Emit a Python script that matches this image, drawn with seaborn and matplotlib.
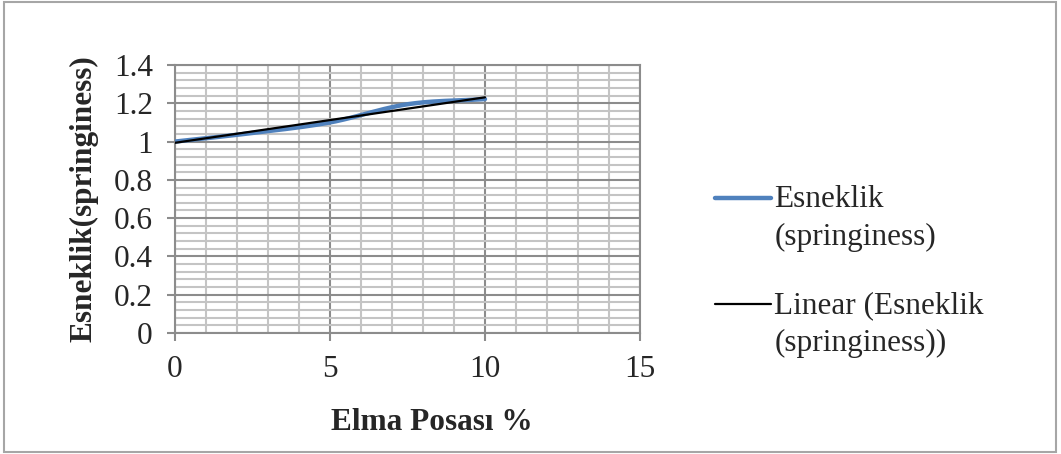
import numpy as np
import pandas as pd
import matplotlib
matplotlib.use("Agg")
import matplotlib.pyplot as plt
import seaborn as sns
from matplotlib.ticker import MultipleLocator
from matplotlib.patches import Rectangle

# DATA
posa = [0, 2.5, 5, 7.5, 10]
esneklik = [1.00, 1.045, 1.10, 1.195, 1.222]

x_ticks = [0, 5, 10, 15]
y_ticks = [0, 0.2, 0.4, 0.6, 0.8, 1.0, 1.2, 1.4]
y_tick_labels = ['0', '0.2', '0.4', '0.6', '0.8', '1', '1.2', '1.4']

series_label = 'Esneklik\n(springiness)'
trend_label = 'Linear (Esneklik\n(springiness))'

FS = 22.5


def smooth_curve(xs, ys, n=40):
    '''
    catmull-rom spline through the points, like the smoothed line in excel
    '''
    xs = np.asarray(xs, float)
    ys = np.asarray(ys, float)
    px = np.concatenate([[2 * xs[0] - xs[1]], xs, [2 * xs[-1] - xs[-2]]])
    py = np.concatenate([[2 * ys[0] - ys[1]], ys, [2 * ys[-1] - ys[-2]]])
    out_x, out_y = [], []
    for i in range(1, len(px) - 2):
        t = np.linspace(0, 1, n, endpoint=(i == len(px) - 3))
        for p, out in ((px, out_x), (py, out_y)):
            p0, p1, p2, p3 = p[i - 1], p[i], p[i + 1], p[i + 2]
            out.extend(0.5 * (2 * p1 + (-p0 + p2) * t
                              + (2 * p0 - 5 * p1 + 4 * p2 - p3) * t ** 2
                              + (-p0 + 3 * p1 - 3 * p2 + p3) * t ** 3))
    return pd.DataFrame({'x': out_x, 'y': out_y})


sns.set_theme(style='white')
plt.rcParams['font.family'] = ['Liberation Serif', 'DejaVu Serif']

fig = plt.figure(figsize=(10.61, 4.54), dpi=100)
ax = fig.add_axes([175 / 1061, 1 - 333 / 454, 465 / 1061, 268 / 454])

# SMOOTHED SERIES
curve = smooth_curve(posa, esneklik)
sns.lineplot(data=curve, x='x', y='y', sort=False, estimator=None, ax=ax,
             color='#4F81BD', linewidth=3.2, label=series_label, zorder=3)

# LINEAR TREND LINE
slope, intercept = np.polyfit(posa, esneklik, 1)
trend = pd.DataFrame({'x': [posa[0], posa[-1]]})
trend['y'] = slope * trend['x'] + intercept
sns.lineplot(data=trend, x='x', y='y', ax=ax, color='black', linewidth=1.6,
             label=trend_label, zorder=4)

ax.set_xlim(0, 15)
ax.set_ylim(0, 1.4)
ax.set_xticks(x_ticks)
ax.set_xticklabels([str(v) for v in x_ticks])
ax.set_yticks(y_ticks)
ax.set_yticklabels(y_tick_labels)
ax.xaxis.set_minor_locator(MultipleLocator(1))
ax.yaxis.set_minor_locator(MultipleLocator(0.04))

ax.grid(which='minor', color='#c4c4c4', linewidth=1.5, zorder=0)
ax.grid(which='major', color='#8c8c8c', linewidth=1.5, zorder=1)
ax.set_axisbelow(True)
for sp in ax.spines.values():
    sp.set_color('#8c8c8c')
    sp.set_linewidth(1.5)

ax.tick_params(which='major', direction='out', length=6, width=1.5, color='#8c8c8c',
               labelsize=FS, pad=10, left=True, bottom=True)
ax.tick_params(which='minor', length=0)

ax.set_xlabel('Elma Posası %', fontsize=FS, fontweight='bold', va='center')
ax.set_ylabel('Esneklik(springiness)', fontsize=FS, fontweight='bold', va='center')
ax.xaxis.set_label_coords((432 - 175) / 465, (333 - 423) / 268)
ax.yaxis.set_label_coords((84 - 175) / 465, 0.5)

handles, labels = ax.get_legend_handles_labels()
ax.get_legend().remove()
leg = fig.legend(handles, labels, loc='upper left', bbox_to_anchor=(715 / 1061, 1 - 185 / 454),
                 frameon=False, fontsize=FS, handlelength=1.8, handletextpad=0.1,
                 handleheight=1.1, labelspacing=1.25, borderpad=0, borderaxespad=0)
for t in leg.get_texts():
    t.set_linespacing(1.4)
# put each handle next to the first line of its label
for col in leg._legend_handle_box.get_children():
    for row in col.get_children():
        row.align = 'top'

# OUTER CHART BORDER
fig.patches.append(Rectangle((4 / 1061, 2 / 454), 1052 / 1061, 450 / 454,
                             transform=fig.transFigure, fill=False,
                             edgecolor='#a6a6a6', linewidth=1.5))

fig.savefig('out.png', dpi=100)
